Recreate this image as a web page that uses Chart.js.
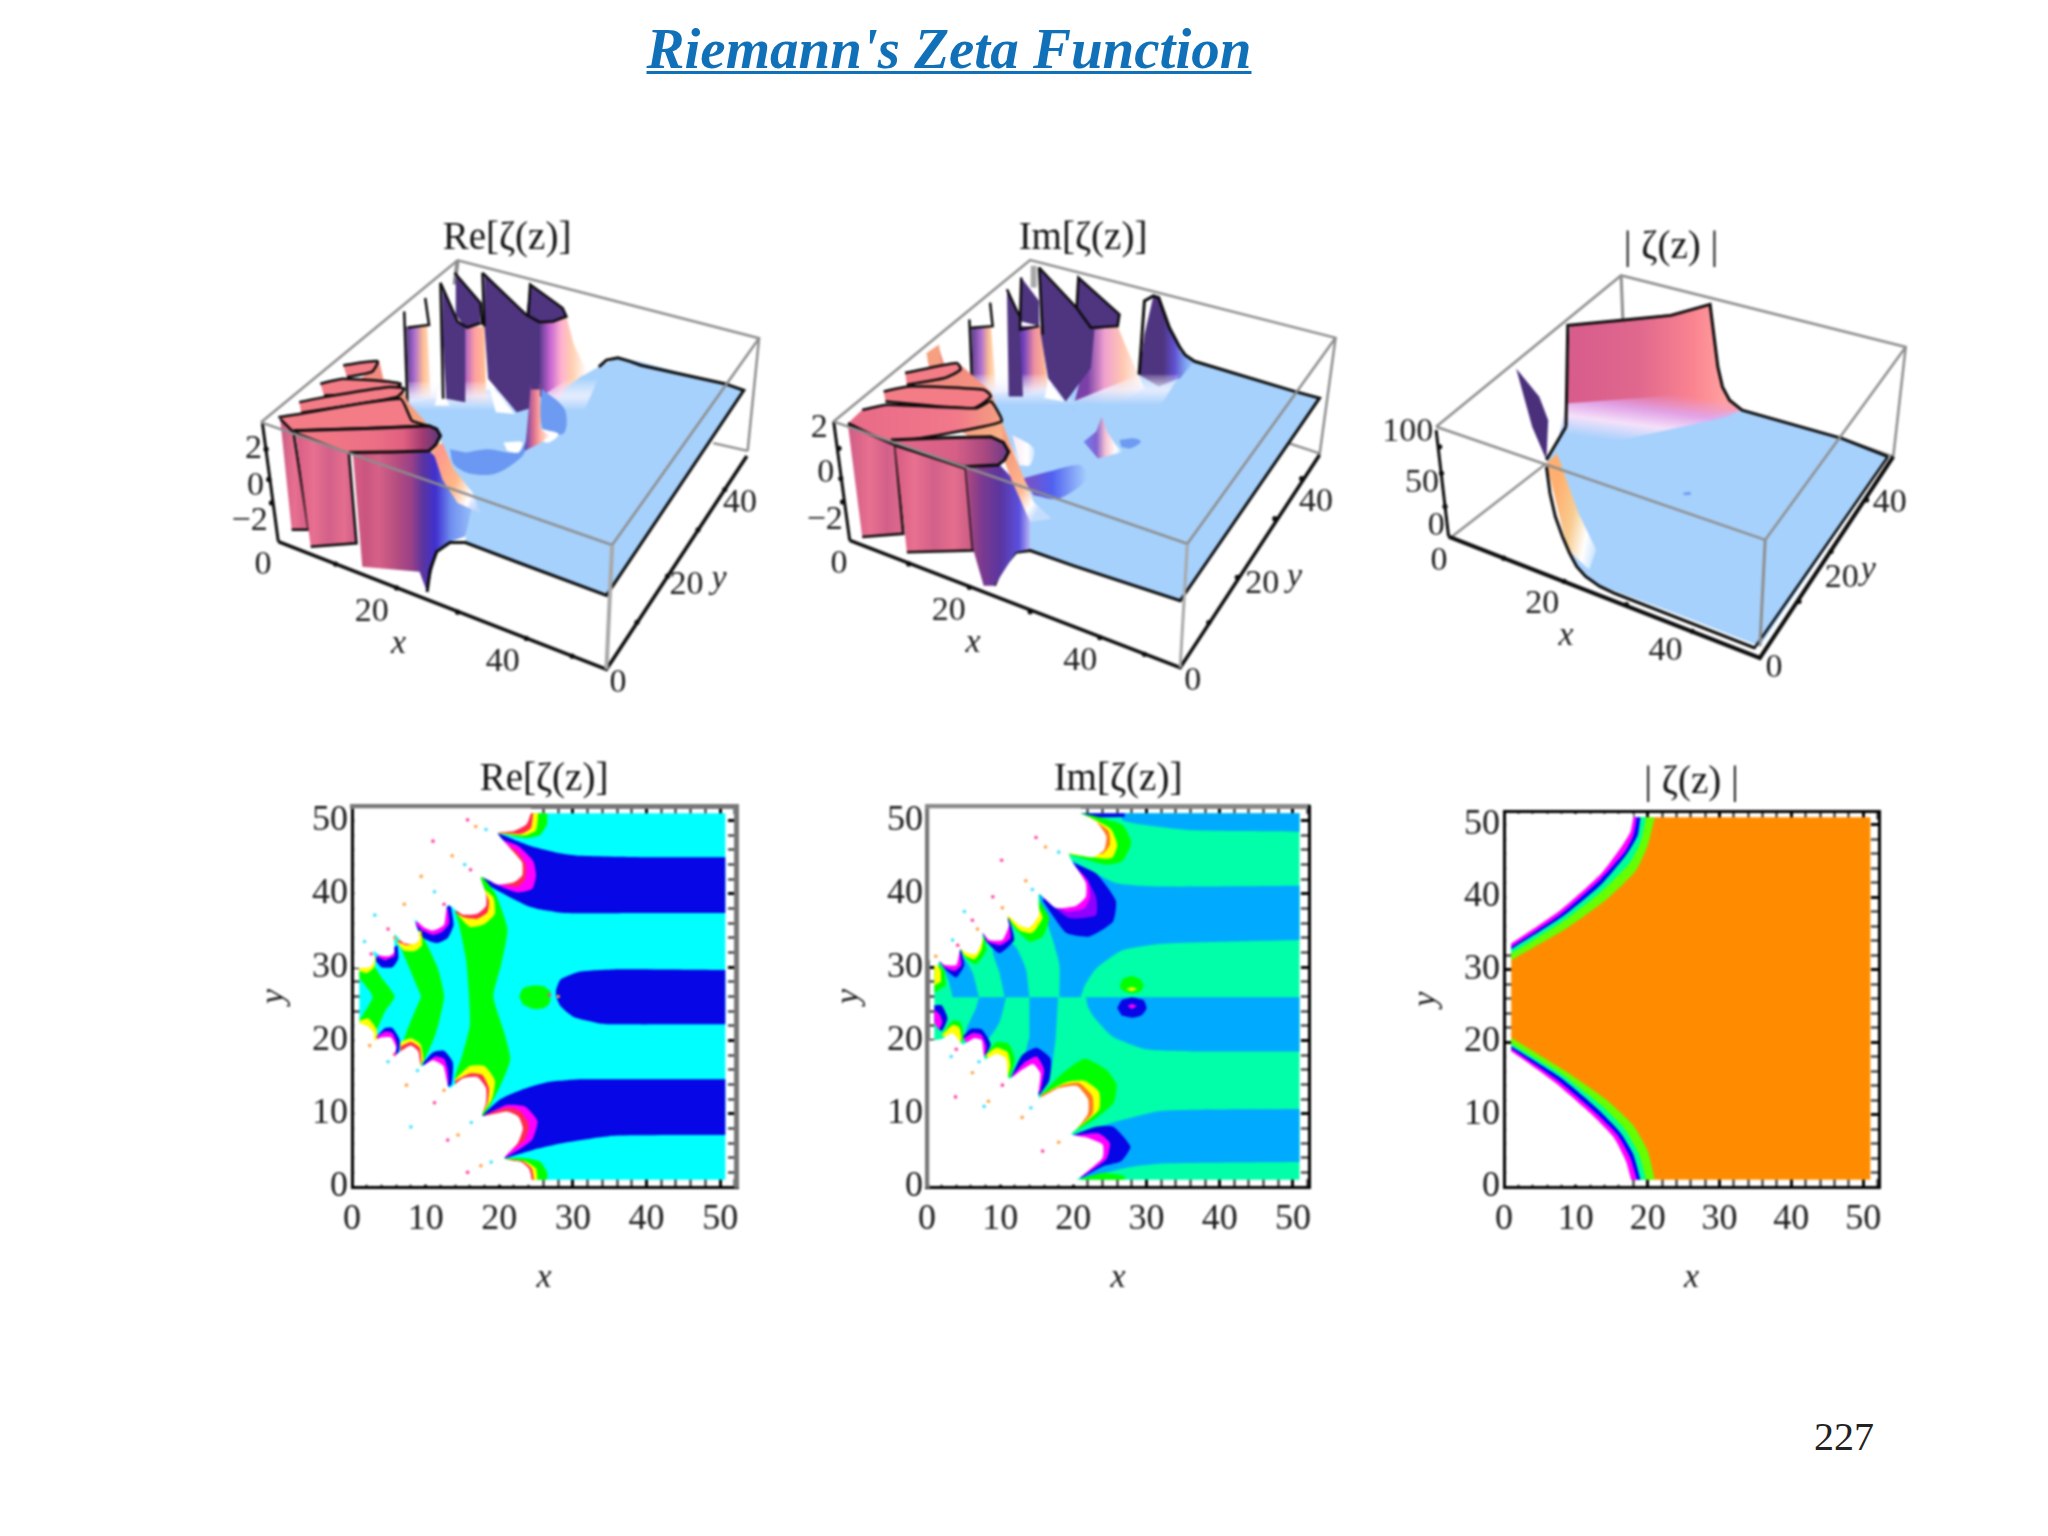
<!DOCTYPE html>
<html><head><meta charset="utf-8">
<script src="https://cdn.jsdelivr.net/npm/chart.js@4/dist/chart.umd.js"></script>
<style>
html,body{margin:0;padding:0;background:#fff;width:2048px;height:1536px;overflow:hidden}
canvas{position:absolute;filter:blur(.8px)}
#head{position:absolute;left:0;top:16px;width:1898px;text-align:center;font:italic bold 57px 'Liberation Serif';color:#1070b8;text-decoration:underline;text-decoration-thickness:3px;text-underline-offset:3px}
#page{position:absolute;left:1814px;top:1413px;font:40px 'Liberation Serif';color:#222}
</style></head><body>
<div id="head">Riemann's Zeta Function</div>
<div id="page">227</div>
<script>
const SERIF="'Liberation Serif'";
// ---- contour panels: region outlines in (x,y) data units ----
const tickValues=[0,10,20,30,40,50];
const reBase=[1,1,50.7,1,50.7,51,1,51];
const reBlueTop=[19.8,48.3,22,47.4,24.7,46.4,28,45.6,31,45.2,40,45,50.7,45,50.7,37.4,40,37.4,28.8,37.4,25.5,37.9,23.8,38.4,21,39.8,18.4,41.3,17.5,42.6];
const reBlueBot=[17.7,9.8,20.2,12,23.4,13.4,26.5,14.3,31,14.7,40,14.7,50.7,14.7,50.7,7.1,35.6,7,29.2,6.1,24.7,5.1,20.7,3.9];
const reBlueMid=[27.7,26.9,28.3,28.3,31,29.4,35.6,29.7,50.7,29.6,50.7,22.2,35,22.2,33.3,22.4,30.1,23.2,28.3,24.7,27.7,26];
const reGreenBig=[17.5,42.6,19.5,40,21.1,35.2,20.3,30.5,19.2,26,20.7,21,21.5,17.4,20,13.5,17.7,9.8,14,14.5,15,18,16,22,15.9,26,15.5,31,14.5,36,14,37.5];
const reGreenA=[6.7,32.5,9,33,9.4,34.5,11.6,30,12.5,26,11.4,21,9.4,16.5,8.8,16.5,7,19.7,9.4,26];
const reGreenB=[1,29.5,2.8,30.3,4,28.6,5.8,26,4.5,24,3,21,1.2,22.7,1,22.7,2.8,26,1,28.5];
const reBlob=[22.7,26,23.2,27.1,24.6,27.5,26,27.4,27,26.6,26.8,25,26,24.4,24.6,24.3,23.2,24.9];
const reT1g=[19.8,48.3,23.5,47.6,25.5,48,26.5,49.5,26.5,51,20,51];
const reT1y=[20,48.2,23.5,48,25,48.7,25.3,51,20,51];
const reT1r=[20,48.3,23,48.2,24.3,49,24.6,51,20,51];
const reT2m=[20,47.5,22.5,46.6,24.6,44.5,25,42.5,24.5,40.7,22.5,40.2,19,41.5];
const reT2r=[20,47.5,22.5,45.7,23.6,44,23.5,42,22.5,41,19,41.6];
const reT3y=[17.5,41,19.2,39.5,19.4,37.3,18,35.9,16,35.5,14.2,37.5,15,38];
const reT3r=[17.8,41,18.6,39,18.4,37.5,17,36.6,15.2,36.8,14,37.5];
const reT4b=[13.4,38.5,13.8,35.8,13,34,11.5,33.3,9.7,34,8.5,36];
const reT4m=[13,38,13.2,36,12.2,34.8,11,34.4,9.6,35,8.5,36];
const reT5y=[9.4,35,9.5,33,8.5,32.2,7,32.3,6,33.5];
const reT5r=[9.2,34.5,8.8,33.3,7.4,33,6,33.5];
const reT6b=[6.2,33,6.3,31.2,5.5,30,4,30,3,31.2];
const reT6m=[5.8,32.5,5.8,31.5,4.5,30.9,3.3,31.5];
const reT7y=[3.3,31.5,3,30,2,29.2,1,29.5,1,30];
const reB7y=[1,22.7,2.2,23,3.3,21.6,3.4,20,1,20];
const reB6b=[3.3,20.5,4.5,21.7,5.5,21.7,6.5,20,6.2,18,5,18];
const reB6m=[3.3,20.5,4.5,21.2,5.5,21,6.1,19.5,5.8,18,5,18];
const reB5y=[6.6,19.8,8,20.3,9.3,19.5,9.7,17.2,9,16.5,6.5,18];
const reB5r=[6.6,19.2,8,19.8,9.2,19,9.4,17,9,16.5,6.5,18];
const reB4b=[9.7,17,11,18.4,12.5,18.6,13.7,17,13.5,14,12.5,13.5,9.5,16];
const reB4m=[10,16.8,11.3,17.8,12.5,17.5,13,16,13,14,9.5,16];
const reB3y=[14,14.7,16,16.5,18,16.5,19.4,14.5,19,12,17.5,10,14,11];
const reB3r=[14,14.5,16,15.5,17.7,15.3,18.6,13.5,18.4,11.5,17.5,10,14,11];
const reB2m=[18,9.8,21,11.2,23.5,11,25.2,9,24.5,6.5,22.5,5,20.5,4,19,6];
const reB2r=[18,9.8,21,10.8,22.8,10.4,24,8.5,23.5,6.5,21.5,5,20,4.5,19,6];
const reB1g=[20.5,3.9,23,4,25.5,3.5,26.5,2,26.5,1,20,1];
const reB1y=[21,3.8,23.5,3.5,25,2.5,25.2,1,20,1];
const reB1r=[21,3.8,23.2,3.5,24.4,2.5,24.7,1,20,1];
const reWhiteTop=[0.3,51.7,24.3,51.7,24.3,51,23.7,49.5,22,48.6,19.8,48.3,21.5,46.2,23.1,44.3,23.1,42.5,22,41.6,19.8,41.3,17.5,42.3,18.2,40,18.2,38.4,17,37.3,15,37.2,13,38.5,12.5,35.8,11,35,9.7,35.5,8.5,36.5,9.2,34,8.6,33.2,7,33.3,5.8,34.5,5.7,32,5,31.5,3.8,31.6,2.9,32.2,3.1,31,2.4,30,0.3,29.9];
const reWhiteBot=[0.3,0.3,24.4,0.3,24.4,1,24.1,2.4,23,3.4,20.7,3.9,22.5,6,23.2,8,22.6,9.6,21,10.3,17.7,9.7,18.2,11.5,18.2,13.5,17,15,15,14.8,13.2,13.5,12.4,16.5,11,17.3,9.4,16.5,9,18.5,8,19.3,6.6,18.5,5.8,18,6,19,5.3,20.4,4,20.4,3,20,3,21,2,22,0.3,22.6];
const reDots=[15.7,50.1,16.8,49.2,18.2,48.8,11,47.2,13.6,45.2,15.3,44,16.1,43.3,9.4,42.4,11.2,40.3,12.5,38.6,7.1,38.6,3.1,37.1,4.9,35.2,5.8,34,1.7,33.5,2.6,31.8,2.4,19.3,4.9,17.1,5.8,18.1,7.4,13.9,8.9,15.9,11.2,11.5,12.5,13.2,8,8.2,13,6.4,14.4,7.1,16.2,8.8,15.7,2,17.5,2.9,18.9,3.4,26.8,26.2,28,26];

const imBase=[1,1,50.9,1,50.9,51,1,51];
const imBlueA=[26.5,51,50.9,51,50.9,48.5,36,48.7,29,49.5,26.7,50];
const imBlueB=[19.9,44.5,25.8,41.5,32.2,41,50.9,41.1,50.9,33.7,32.2,33.2,26.7,32.3,23.1,29.8,21.6,27.6,21,25.9,18.1,25.9,18.1,30.3,17.2,33.7,15.8,38.1,15.3,40];
const imBlueC=[10.6,25.9,9.9,29.3,9,32.3,11,33.5,12.2,32.7,13.5,29.8,14,25.9];
const imBlueD=[3.5,25.9,3,28,2.4,30,4.9,31.3,6.2,29.3,7.1,25.9];
const imBlueE=[21.7,25.9,22,24.6,22.8,23.2,25.4,20.5,29.9,18.8,36.8,18.5,50.9,18.5,50.9,25.9];
const imBlueF=[14,25.9,17.9,25.9,17.6,20.5,16.9,15.6,15.5,12.7,15,17,13.5,18,14,20.5];
const imBlueG=[7.1,25.9,10.8,25.9,9.9,22.5,8.1,20,5.3,21,6.7,24.4];
const imBlueH=[19.9,7.1,25.4,8.8,32.2,10.4,50.9,10.65,50.9,3.4,32.2,3.2,27.6,2.7,21.3,1.2];
const imSpotG=[26.3,27.5,26.8,28.4,28,28.8,29.2,28.3,29.6,27.5,29.2,26.7,28,26.4,26.8,26.7];
const imSpotB=[26,24.4,26.6,25.5,28,25.9,29.6,25.5,30,24.4,29.3,23.4,28,23.1,26.6,23.4];
const imSpotY=[27.2,27,28,27.3,28.8,27,28,26.7];
const imSpotM=[27.4,24.7,28,25,28.7,24.7,28,24.3];
const imT1=[20.5,51,27,51,27,50.5,21,50.4];
const imT2g=[19,45.5,24.5,44,26.7,44.5,27.9,47,26.7,49.4,23,50.6,21,51];
const imT2y=[19,45.5,24.5,44.8,25.4,45,26,46.7,25.1,48.9,22,50.6];
const imT2r=[19.4,45.5,24,45.5,25,46.7,24.8,48.6,22,50.6];
const imT3b=[19.4,44.5,23.1,42.8,25.8,39.1,25.4,36.2,22.2,34.2,19,34.7,15.8,39.1];
const imT3m=[19.4,44.5,21.7,42.2,23.1,39.6,23.1,37.1,19.4,36.7,15.8,39.5];
const imT3r=[19.8,44.2,22,41.8,22.3,39.6,21.5,38,19,37.6,15.8,39.5];
const imT4g=[15.3,39.1,16.7,36.7,15.8,34.2,14,33.5,11.7,35.7,10.8,37.1];
const imT4y=[15.3,38,15.8,36.7,14.4,34.7,12.7,35,10.8,37.1];
const imT5b=[11.2,36.7,11.9,33.7,9.9,31.9,8.1,33.5,7.6,34.7];
const imT5m=[11.2,36,11.4,34,10,33,8.3,33.5,7.6,34.7];
const imT6g=[7.8,34.2,8.1,32.3,6.7,30.4,5.3,31.3,4.6,32.5];
const imT6y=[7.7,34,7.4,32.3,6.5,31.1,5.2,31.6,4.6,32.5];
const imT7b=[4.6,32.5,5.1,30.3,4,28.6,2.4,29.8,1.7,30.8];
const imT7m=[4.5,32,4.7,30.3,3.8,29.5,2.4,30,1.7,30.8];
const imT8g=[1,31,2.4,29.5,2.6,27.5,1,26.5];
const imT8y=[1,31,1.9,29.5,1.9,28,1,27.5];
const imBLb=[1,24.8,2,24.8,2.8,23,2,21.3,1,22.5];
const imBLm=[1,24.2,1.7,23.6,2.1,22.5,1.6,21.5,1,22.5];
const imB1g=[2,20.7,3.5,22.7,4.6,22.5,5,20.5,4.5,19.5];
const imB1y=[2,20.7,3.5,22.1,4.4,21.8,4.7,20.5,4.5,19.5];
const imB2b=[4.9,20.5,6,21.6,7.5,21.5,8.7,19.5,8,17.9];
const imB2m=[4.9,20.2,6.2,21,7.4,20.8,8.1,19.2,7.9,17.9];
const imB3g=[8,18,9.5,19.8,11.2,19.5,12,17.5,11.3,15,10.5,15];
const imB3y=[8,18,9.5,19,11,18.4,11.4,16.5,11,15];
const imB4b=[11.5,15,13,18,15,19,16.9,17.5,16.7,14.5,15.3,12.5];
const imB4m=[11.5,15,13.3,17,15,17.8,16,16,15.5,13];
const imB5g=[15.5,12.5,18.5,15.5,21.5,17.5,24.5,16,25.9,14,25.5,11.5,23,9.3,19.5,7.2];
const imB5y=[15.5,12.5,19,14.3,21.5,14.5,23.5,13,23.5,10.5,19.5,7.2];
const imB5r=[15.5,12.5,18.5,13.9,20.8,14.2,22.6,12.4,22.6,10,19.5,7.2];
const imB6b=[19.7,7,23,8.2,25.5,8.2,27.8,5.5,26.5,3.5,24,2.8,21,1.2];
const imB6m=[19.7,7,23.5,7.3,25,6,24.5,3.8,21,1.3];
const imB7=[21,1.1,24,1.9,27,1.5,27,1,21,1];
const imWhiteTop=[0.3,51.7,21,51.7,21,51,23.1,49.9,24.5,47.9,24.2,46,22.6,45,19.4,45.5,20.1,44,21.7,41.5,21.7,39.6,20.4,38.4,17.6,38.1,15.3,40,15.3,37.1,14,35.4,12.7,35.7,11,37.1,11.2,35.7,10.3,33.7,8.5,33.7,7.6,34.7,7.6,33.7,6.7,31.8,5.3,32,4.6,32.5,4.4,31.8,4,30.3,2.4,30.3,1.7,30.8,1.4,30,0.3,31];
const imWhiteBot=[0.3,0.3,20.5,0.3,20.5,1,22,2.2,24,4,24,5.8,22,6.7,19.7,7.2,20.5,8,22,10,22,12,20.5,13.8,18,13.5,15.3,12.2,15.5,15.5,14.5,16.8,13,16,11.2,14.8,10.8,17.5,9.5,18.2,7.9,17.5,7.5,20,6.5,20.3,4.9,19.5,3.5,21,2,20.2,0.3,20];
const imDots=[14.9,47.7,16.2,46.4,18,45.7,10.2,44.6,13.5,41.8,14.4,40.6,9,39.6,10.3,38.1,5.1,37.6,6.2,36.4,6.9,35.2,3.5,33.7,4.2,33,1.2,31.5,3.3,17.8,4,18.8,6.2,15.6,7.1,17.1,3.9,12.3,8.4,11.7,7.8,11,10.3,13.9,13,9.5,14.2,10.8,15.8,4.9,18,6.1];

const absBase=[1,1,51,1,51,51,1,51];
const absTopG=[1,51,21,51,20,47.1,18.4,43.7,14.3,39.7,8.7,35.7,1,31.3];
const absTopT=[1,51,19.8,51,19,47.6,17.5,44.7,13.5,40.7,8,36.5,1,32.2];
const absTopB=[1,51,19,51,18.6,48.5,17,45.8,13.5,41.7,8,37.2,1,32.8];
const absTopM=[1,51,18.5,51,18,48.5,16.8,46.2,13.5,42.5,8,37.7,1,33.1];
const absTopW=[0.3,51.5,18,51.5,18,51,17.6,49,16.4,47,13.5,43.2,8,38.3,1,33.6,0.3,33.6];
const absBotG=[1,1,21,1,20,5,18,8.5,14.3,12,8.7,15.9,1,20.6];
const absBotT=[1,1,19.8,1,18.8,4.5,16.8,8,13.5,11.3,8,15.6,1,19.8];
const absBotB=[1,1,19,1,18,4.5,16.2,7.5,13,10.8,8,15,1,19.4];
const absBotM=[1,1,18.5,1,17.6,4,15.8,7.2,12.5,10.5,7.5,14.7,1,19.1];
const absBotW=[0.3,0.3,17.7,0.3,17.7,1,17,3.5,15.3,6.8,12,10.2,7,14.5,1,18.7,0.3,18.7];

// ---- surface panels: outlines on the projected view plane ----
const reBoxBack=[105,660,620,178,1410,410,1380,745];
const reBoxBack2=[1290,722,1380,745];
const reBoxBack3=[620,178,612,250];
const reBoxFront=[105,660,1025,1025,1410,410];
const reBoxNear=[1025,1025,1010,1395];
const reAxisZ=[150,1015,108,660];
const reAxisBase=[150,1015,1010,1395,1378,760];
const reAxisTicks=[300,1082,460,1153,620,1225,800,1303,920,1356,1090,1255,1170,1118,1250,980,1320,860,125,830,132,900,118,740];
const reSheet=[1010,1175,1370,565,1100,480,1040,468,990,495,950,520,490,600,490,650,570,700,610,800,650,900,640,1015,780,1075];
const reSheetEdge=[540,1165,548,1100,565,1045,600,1018,640,1018,780,1078,1010,1175,1370,565,1320,545,1100,490,1070,478,1040,468,1010,475,990,495];
const rePillarE=[835,360,905,345,925,430,960,510,900,560,860,660,800,600];
const rePillarD=[690,215,800,340,810,250,895,320,905,345,870,360,835,365,835,610,775,630,700,530,690,370];
const rePillarDEdge=[685,215,800,340,835,362,870,360,905,345,895,320,810,250,805,340];
const rePillarDEdge2=[685,215,690,375];
const rePillarC=[640,375,690,375,695,600,620,600];
const reWedgeC=[580,250,620,360,640,378,640,600,590,590,580,400];
const reWedgeC2=[615,215,680,305,680,365,640,378,615,340];
const reWedgeEdge=[575,245,620,360,645,378,680,365];
const reWedgeEdge2=[612,215,680,305,685,370];
const reWedgeEdge3=[575,245,582,590];
const rePillarB=[485,375,540,372,550,590,490,590];
const rePillarBEdge=[480,330,488,600];
const rePillarBEdge2=[535,290,545,370,490,378];
const reNotchA=[570,560,600,610,560,610];
const reNotchB=[700,540,770,635,720,630];
const reFade=[490,540,700,540,830,590,950,500,1000,500,950,630,490,640];
const reHalo=[840,560,900,620,900,690,850,695,835,640];
const reDip=[600,740,610,785,650,812,720,812,790,760,800,720,770,750,700,740,640,750];
const reSpot=[740,720,790,720,780,750,750,745];
const reSpike=[812,545,835,545,838,680,860,700,840,720,795,745,800,700];
const reSpikeTop=[812,540,835,540,835,562,812,562];
const reWhiteSpot=[840,680,885,695,860,720,835,715];
const reBack=[415,480,425,530,470,545,490,600,560,690,600,790,560,760,300,600];
const reTierA=[320,490,410,478,395,510,330,525];
const reTierB=[260,545,320,530,470,545,430,575,270,580];
const reTierC=[205,600,270,585,440,555,480,560,460,585,210,632];
const reTierD=[150,645,205,635,470,590,500,655,540,670,190,685];
const reWall1=[155,650,190,690,230,980,185,980];
const reWall2=[195,690,335,750,355,1020,235,1030];
const reWall3=[345,750,545,745,560,760,600,820,640,870,660,900,640,1000,600,1015,565,1040,540,1165,520,1105,370,1090];
const reTube=[190,685,400,678,545,670,565,680,575,700,562,728,545,745,450,748,335,750];
const reWallFade=[555,745,580,720,610,800,660,870,680,930,620,900,580,830];
const reLabelText=['2','0','−2','0','20','40','0','20','40'];
const reLabelX=[85,90,75,110,395,738,1040,1220,1360];
const reLabelY=[740,850,955,1085,1225,1375,1435,1145,900];
const reAxisNameX=[465,1320];
const reAxisNameY=[1305,1125];

const imBoxBack=[90,660,640,178,1495,410,1450,760];
const imBoxBack2=[1365,725,1450,755];
const imBoxBack3=[650,195,650,260];
const imBoxFront=[90,660,1080,1025,1495,410];
const imBoxNear=[1080,1025,1060,1395];
const imAxisZ=[135,1015,90,660];
const imAxisBase=[135,1015,1060,1395,1450,760];
const imAxisTicks=[300,1085,470,1155,640,1228,835,1305,960,1355,1140,1260,1220,1125,1325,950,1400,830,110,830,115,900,105,740];
const imSheet=[1060,1195,1450,590,1100,480,940,510,530,580,545,640,600,760,630,880,640,1045,760,1090];
const imSheetEdge=[540,1150,560,1100,600,1050,640,1045,760,1090,1060,1195,1450,590,1380,570,1100,480,1075,462,1060,440,1030,380,1000,290,985,285,960,300,945,520];
const imSpikeF=[985,285,1000,290,1030,380,1060,450,1100,480,1060,530,1000,555,945,520,960,400];
const imPillarPink=[815,385,885,375,910,440,960,560,900,600,760,620];
const imPillarD=[665,200,770,320,775,230,890,340,885,375,820,385,810,500,740,600,690,530,670,400];
const imPillarEdge=[665,200,770,320,810,380,885,375,890,340,775,230,770,320];
const imPillarEdge2=[665,200,675,400];
const imWedge=[615,230,610,360,665,375,665,300];
const imWedgeEdge=[575,265,612,350,612,385,665,375];
const imWedgeEdge2=[615,230,612,350];
const imPillarC=[580,375,670,375,690,560,590,585];
const imPillarDk=[575,265,612,360,612,385,620,585,580,585];
const imPillarB=[475,380,530,375,545,570,480,570];
const imPillarBEdge=[470,355,478,570];
const imPillarBEdge2=[528,305,535,375,475,380];
const imNotch=[690,540,735,600,680,590];
const imFade=[480,520,690,520,760,600,945,520,1060,520,1000,620,530,620];
const imMini=[840,645,855,690,880,730,900,750,830,770,790,720,825,690];
const imMiniSpot=[890,715,930,710,950,720,920,740,895,735];
const imDip=[620,830,690,810,780,790,800,830,720,890,650,880];
const imPale=[590,700,650,740,640,790,610,790];
const imBack=[385,440,400,490,445,490,530,570,560,660,600,770,560,760,300,600];
const imTier0=[350,455,385,430,390,490,355,490];
const imTier1=[290,515,435,485,445,505,400,530,295,550];
const imTier2=[230,570,300,555,510,565,530,585,480,620,235,600];
const imTier3=[170,625,240,610,490,620,530,600,560,660,250,720,130,665];
const imWall1=[130,670,262,730,285,995,170,1005];
const imWall2=[262,730,460,800,480,1045,295,1050];
const imWall3=[460,800,555,790,600,840,640,900,640,1040,600,1050,540,1150,510,1150,480,1040];
const imTube=[250,715,400,708,530,705,565,722,580,750,568,775,550,790,455,795,262,730];
const imWallFade=[560,660,600,770,650,900,700,950,640,960,590,840,565,770];
const imLabelText=['2','0','−2','0','20','40','0','20','40'];
const imLabelX=[50,68,65,105,412,780,1095,1290,1440];
const imLabelY=[680,815,955,1085,1225,1375,1435,1145,900];
const imAxisNameX=[480,1320];
const imAxisNameY=[1380,1125];

const abBoxBack=[180,680,700,225,1500,440,1465,770];
const abBoxBack2=[1320,715,1465,770];
const abBoxBack3=[700,225,705,360];
const abBoxBack4=[225,1010,490,790];
const abBoxFront=[180,680,1105,1020,1500,440];
const abBoxNear=[1105,1020,1090,1340];
const abAxisZ=[215,1010,180,690];
const abAxisBase=[215,1010,1090,1375,1465,770];
const abAxisBase2=[680,1180,1075,1345,1450,770];
const abAxisTicks=[370,1075,540,1145,715,1215,900,1295,1200,1205,1290,1055,1390,900,195,820,205,920,190,740];
const abSheet=[1090,1340,1450,770,1320,720,1050,630,1000,640,520,735,490,790,560,1080,620,1150,850,1240];
const abWall=[555,375,700,360,840,340,950,310,965,440,972,500,985,560,1005,600,1040,630,1000,640,700,700,550,700,545,670];
const abWallFade=[545,610,800,590,985,560,1005,600,1040,630,1000,650,700,720,520,735];
const abWallEdge=[545,680,550,375,700,360,840,345,950,312,965,440,972,500,985,560,1005,600,1040,630,1320,715,1450,770];
const abLeaf=[405,505,470,590,495,660,490,780,450,680];
const abLink=[490,780,545,680];
const abPatch=[490,790,520,760,580,940,630,1050,610,1110,550,1050];
const abEdge=[490,800,500,880,515,950,535,1010,555,1060,575,1100,600,1130,640,1160,680,1180,1075,1345];
const abSpot=[875,878,895,875,895,885,875,885];
const abLabelText=['100','50','0','0','20','40','0','20','40'];
const abLabelX=[100,140,180,188,478,825,1130,1320,1455];
const abLabelY=[695,850,980,1085,1212,1355,1405,1135,910];
const abAxisNameX=[545,1310];
const abAxisNameY=[1395,1110];

// ---- styles ----
const grey='#8d8d8d',ink='#0a0a0a';
const rainbow=['#ff40a0','#40a0ff','#ffa040','#a040ff','#40e0ff','#ff6060'];
const C={cyan:'#00ffff',blue:'#0606e6',green:'#00ff00',yellow:'#ffff00',red:'#ff2a50',mag:'#ff00ff',white:'#ffffff',orange:'#ff8800',
 spring:'#00ffa8',sky:'#00aaff',lime:'#66ff00',teal:'#00ff99',ora2:'#ff8c00',pure:'#0000ff',violet:'#9000ff',dark:'#4f3480',sheet:'#a6d1fc',
 salmon:'#f37c86',pink:'#e06c8c',halo:'#6d9bf2',dip:'#6a98f2'};
const H=(x0,x1,s)=>({a:[x0,300],b:[x1,300],s});
const G={
 pillarE:H(835,960,[[0,'#5a3b8c'],[.2,'#c060d0'],[.45,'#ffb0d0'],[.68,'#ffd0b0'],[1,'#ffffff']]),
 pillarC:H(620,695,[[0,'#7a3aa0'],[.35,'#c070c0'],[.6,'#ffa0a0'],[1,'#ffc090']]),
 pillarB:H(485,550,[[0,'#5a3b8c'],[.35,'#b070d0'],[.7,'#ffc090'],[1,'#ffe0d0']]),
 fadeRe:{a:[700,530],b:[700,625],s:[[0,'rgba(255,255,255,0)'],[.55,'rgba(240,240,255,.85)'],[1,'#a6d1fc']]},
 fadeIm:{a:[700,510],b:[700,610],s:[[0,'rgba(255,255,255,0)'],[.55,'rgba(240,240,255,.85)'],[1,'#a6d1fc']]},
 spike:H(795,865,[[0,'#5040b0'],[.35,'#e07090'],[.6,'#ffb0a0'],[1,'#ffffff']]),
 back:{a:[400,560],b:[620,760],s:[[0,'#f38a80'],[.6,'#f8a880'],[1,'#ffc8a0']]},
 wall3:H(345,680,[[0,'#d85c84'],[.1,'#c9567f'],[.2,'#d66088'],[.33,'#b85080'],[.46,'#9a4088'],[.55,'#5a35a0'],[.65,'#4030d0'],[.77,'#7090f0'],[1,'#a6d1fc']]),
 wall2:H(195,355,[[0,'#d85c84'],[.3,'#e87090'],[.55,'#d2608a'],[.8,'#e56e8e'],[1,'#cc5a86']]),
 wall1:H(155,230,[[0,'#c85a84'],[.5,'#e87090'],[1,'#d05c86']]),
 tube:H(190,575,[[0,'#f47b85'],[.55,'#ec6f85'],[.75,'#e05f80'],[.88,'#a03a70'],[1,'#5a3880']]),
 wallFade:{a:[560,800],b:[690,860],s:[[0,'#ff9a8a'],[.45,'#ffb888'],[.8,'#ffffff'],[1,'rgba(240,225,250,.3)']]},
 imF:H(945,1105,[[0,'#4f3480'],[.42,'#4f3480'],[.62,'#6050d0'],[.82,'#80a8f4'],[1,'#a6d1fc']]),
 imPink:H(800,960,[[0,'#7a40a8'],[.3,'#f0a0d0'],[.62,'#ffc8b0'],[1,'#ffffff']]),
 imC:H(595,690,[[0,'#4f3480'],[.28,'#7040c0'],[.6,'#f090a0'],[1,'#ffc090']]),
 imB:H(475,545,[[0,'#5a3b8c'],[.4,'#b070d0'],[.72,'#ffc090'],[1,'#ffe8d8']]),
 imMini:H(790,900,[[0,'#7080f0'],[.32,'#8060d0'],[.55,'#f5c0d0'],[.82,'#ffffff'],[1,'#a6d1fc']]),
 imDip:H(620,800,[[0,'#8050c0'],[.45,'#5060f0'],[1,'#a6d1fc']]),
 imPale:H(590,660,[[0,'#f8e8f4'],[.6,'#ffffff'],[1,'#b8d8fc']]),
 imW3:H(460,690,[[0,'#b04a80'],[.2,'#7a3a90'],[.42,'#5a35a0'],[.65,'#5a50e0'],[.8,'#c8c8f8'],[1,'#a6d1fc']]),
 imW2:H(262,480,[[0,'#d85c84'],[.25,'#e87090'],[.5,'#d2608a'],[.75,'#e56e8e'],[1,'#c85a84']]),
 imW1:H(130,285,[[0,'#d05c86'],[.4,'#e87090'],[.7,'#d2608a'],[1,'#de6a8c']]),
 imTube:H(250,580,[[0,'#e5688a'],[.55,'#d65f86'],[.8,'#a84880'],[1,'#6a3a88']]),
 imTop:H(130,560,[[0,'#e86a88'],[.7,'#f2788a'],[1,'#f5a080']]),
 imWF:{a:[570,800],b:[690,880],s:[[0,'#f8a080'],[.5,'#ffb890'],[.82,'#ffffff'],[1,'rgba(240,240,255,.4)']]},
 abWall:H(555,990,[[0,'#d85c8c'],[.45,'#e0688e'],[.8,'#fa8490'],[1,'#ffa0a0']]),
 abFade:{a:[760,570],b:[740,730],s:[[0,'rgba(230,160,230,0)'],[.35,'rgba(225,165,235,.95)'],[.65,'rgba(245,225,250,1)'],[1,'#a6d1fc']]},
 abPatch:{a:[505,950],b:[665,985],s:[[0,'#ffb070'],[.35,'#f8cc90'],[.65,'#ffffff'],[1,'#a6d1fc']]}
};
const L=(pts,fill,stroke,w,t)=>({pts,fill,stroke,w,t});
const TITLE_SIZE=39,TITLE_H=TITLE_SIZE*1.2;

function grad(c,g){const x=c.scales.x,y=c.scales.y;
 if(!x||!y)return '#a6d1fc';
 const ax=x.getPixelForValue(g.a[0]),ay=y.getPixelForValue(g.a[1]),bx=x.getPixelForValue(g.b[0]),by=y.getPixelForValue(g.b[1]);
 if(![ax,ay,bx,by].every(Number.isFinite))return '#a6d1fc';
 const lg=c.ctx.createLinearGradient(ax,ay,bx,by);g.s.forEach(s=>lg.addColorStop(s[0],s[1]));return lg;}
const toXY=f=>{const o=[];for(let i=0;i<f.length;i+=2)o.push({x:f[i],y:f[i+1]});return o;};
// field-border and seam vertices stay sharp when a contour outline is smoothed
const sharp=p=>p.x>=50.5||p.y>=50.4||p.y<=1.3||p.y===25.9;
function toDS(l,tension,contourMode){
 let pts=toXY(l.pts);const t=l.t!==undefined?l.t:(tension||0);
 if(contourMode&&t>0){const o=[];pts.forEach(p=>{o.push(p);if(sharp(p))o.push({x:p.x,y:p.y});});pts=o;}
 const d={data:pts,showLine:true,pointRadius:0,clip:false,tension:t,spanGaps:true,xAxisID:'x',yAxisID:'y'};
 if(l.fill){d.fill='shape';d.backgroundColor=(typeof l.fill==='string')?l.fill:(ctx=>grad(ctx.chart,l.fill));}else{d.fill=false;}
 d.borderColor=l.stroke||'rgba(0,0,0,0)';d.borderWidth=l.stroke?l.w:0;return d;}
function dotsDS(f,colors,r){return {data:toXY(f),showLine:false,fill:false,pointRadius:r,pointStyle:'circle',pointBorderWidth:0,pointBackgroundColor:colors,clip:false,xAxisID:'x',yAxisID:'y'};}
function mk(left,top,w,h){const c=document.createElement('canvas');c.width=w;c.height=h;c.style.left=left+'px';c.style.top=top+'px';c.style.width=w+'px';c.style.height=h+'px';document.body.appendChild(c);return c;}
const titleOpt=(text,bottom)=>({display:true,text,color:'#111',font:{family:SERIF,size:TITLE_SIZE,weight:'normal',lineHeight:1.2},padding:{top:0,bottom}});

function surface(cfg){
 const top=Math.round(cfg.titleCy-TITLE_H/2),bodyTop=top+TITLE_H,w=cfg.halfW*2,left=Math.round(cfg.titleCx-cfg.halfW),h=720-top;
 const cv=mk(left,top,w,h);
 const datasets=cfg.layers.slice().reverse().map(l=>toDS(l,0));
 datasets.unshift(dotsDS(cfg.ticks,ink,2.6));
 const labels={id:'viewLabels',afterDraw(c){const g=c.ctx,x=c.scales.x,y=c.scales.y;g.save();g.fillStyle='#1c1c1c';g.textAlign='center';g.textBaseline='middle';
  g.font="34px "+SERIF;cfg.text.forEach((t,i)=>g.fillText(t,x.getPixelForValue(cfg.tx[i]),y.getPixelForValue(cfg.ty[i])));
  g.font="italic 34px "+SERIF;g.fillText('x',x.getPixelForValue(cfg.nameX[0]),y.getPixelForValue(cfg.nameX[1]));g.fillText('y',x.getPixelForValue(cfg.nameY[0]),y.getPixelForValue(cfg.nameY[1]));g.restore();}};
 const ch=new Chart(cv,{type:'scatter',data:{datasets},plugins:[labels],options:{responsive:false,animation:false,events:[],
  layout:{padding:0},
  plugins:{legend:{display:false},tooltip:{enabled:false},title:titleOpt(cfg.title,0)},
  scales:{x:{type:'linear',display:false,min:(left-cfg.ox)*cfg.kx,max:(left-cfg.ox+w)*cfg.kx},
          y:{type:'linear',display:false,reverse:true,min:(bodyTop-200)*cfg.ky,max:(720-200)*cfg.ky}}}});
 ch.update();
}
function contour(cfg){
 const m=98,ax=111,top=Math.round(cfg.titleCy-TITLE_H/2),pw=cfg.R-cfg.L,w=Math.round(pw+2*m),h=Math.round(cfg.B-top+ax);
 const cv=mk(Math.round(cfg.L-m),top,w,h);
 const datasets=cfg.layers.slice().reverse().map(l=>toDS(l,l.pts.length>8?0.18:0,true));
 if(cfg.dots)datasets.unshift(dotsDS(cfg.dots,cfg.dots.map((_,i)=>rainbow[i%rainbow.length]).filter((_,i)=>i%2==0),1.8));
 const fixW=s=>{s.width=m;s.paddingTop=s.paddingBottom=0;};
 const fixH=s=>{s.height=ax;s.paddingLeft=s.paddingRight=0;};
 const zeroH=s=>{s.height=0;s.paddingLeft=s.paddingRight=0;};
 const tickGrid=(len)=>({drawOnChartArea:false,drawTicks:true,tickLength:len,
   tickColor:c=>(c.tick&&c.tick.value%10===0)?'#000':'#333',tickWidth:c=>(c.tick&&c.tick.value%10===0)?3:2.2});
 const lab=v=>tickValues.includes(v)?String(v):'';
 const ticksShownX={color:'#1c1c1c',font:{family:SERIF,size:36},stepSize:2,autoSkip:false,includeBounds:false,maxRotation:0,minRotation:0,padding:19,callback:lab};
 const ticksShownY={color:'#1c1c1c',font:{family:SERIF,size:36},stepSize:2,autoSkip:false,includeBounds:false,maxRotation:0,minRotation:0,padding:12,callback:lab};
 const ticksHidden={display:false,stepSize:2,autoSkip:false,includeBounds:false};
 const name=(t)=>({display:true,text:t,color:'#1c1c1c',font:{family:SERIF,size:34,style:'italic'},padding:{top:0,bottom:0}});
 const ch=new Chart(cv,{type:'scatter',data:{datasets},options:{responsive:false,animation:false,events:[],
  layout:{padding:0},
  plugins:{legend:{display:false},tooltip:{enabled:false},title:titleOpt(cfg.title,cfg.T-top-TITLE_H)},
  scales:{
   x:{type:'linear',position:'bottom',min:0,max:cfg.xMax,afterFit:fixH,grid:tickGrid(-8),border:{display:true,color:cfg.edge[0],width:cfg.edgeW[0]},ticks:ticksShownX,title:name('x')},
   y:{type:'linear',position:'left',min:0,max:cfg.yMax,afterFit:fixW,grid:tickGrid(-8),border:{display:true,color:cfg.edge[1],width:cfg.edgeW[1]},ticks:ticksShownY,title:name('y')},
   x2:{type:'linear',position:'top',min:0,max:cfg.xMax,afterFit:zeroH,grid:tickGrid(-8),border:{display:true,color:cfg.edge[2],width:cfg.edgeW[2]},ticks:ticksHidden},
   y2:{type:'linear',position:'right',min:0,max:cfg.yMax,afterFit:fixW,grid:tickGrid(-8),border:{display:true,color:cfg.edge[3],width:cfg.edgeW[3]},ticks:ticksHidden}
  }}});
 ch.update();
}

surface({title:'Re[ζ(z)]',titleCx:507,titleCy:238,halfW:285,ox:217,kx:2.584,ky:2.95,ticks:reAxisTicks,text:reLabelText,tx:reLabelX,ty:reLabelY,nameX:reAxisNameX,nameY:reAxisNameY,layers:[
 L(reBoxBack,null,grey,2.5),L(reBoxBack2,null,grey,2.5),L(reBoxBack3,null,grey,4),
 L(reSheet,C.sheet),
 L(rePillarE,G.pillarE),L(rePillarC,G.pillarC),L(rePillarB,G.pillarB),L(reFade,G.fadeRe),
 L(rePillarD,C.dark),L(reWedgeC,C.dark),L(reWedgeC2,C.dark),
 L(reNotchA,C.white),L(reNotchB,C.white),
 L(rePillarDEdge,null,ink,2.5),L(rePillarDEdge2,null,ink,2.5),L(reWedgeEdge,null,ink,2.5),L(reWedgeEdge2,null,ink,2.5),L(reWedgeEdge3,null,ink,2.5),L(rePillarBEdge,null,ink,2.5),L(rePillarBEdge2,null,ink,2.5),
 L(reHalo,C.halo,null,0,.3),L(reDip,C.dip,null,0,.3),L(reSpot,C.white,null,0,.3),L(reWhiteSpot,C.white,null,0,.3),L(reSpike,G.spike),L(reSpikeTop,C.dark),
 L(reBack,G.back),L(reTierA,C.salmon,ink,2.5,.2),L(reTierB,C.salmon,ink,2.5,.2),L(reTierC,C.salmon,ink,2.5,.2),L(reTierD,C.salmon,ink,2.5,.15),
 L(reWall1,G.wall1,ink,2.5),L(reWall2,G.wall2,ink,2.5),L(reWall3,G.wall3),L(reWallFade,G.wallFade),L(reTube,G.tube,ink,3),
 L(reSheetEdge,null,ink,3),
 L(reAxisZ,null,ink,3),L(reAxisBase,null,ink,3.5),
 L(reBoxFront,null,grey,2.5),L(reBoxNear,null,'#a8a8a8',4)]});

surface({title:'Im[ζ(z)]',titleCx:1082.5,titleCy:238,halfW:285,ox:797.5,kx:2.76,ky:2.96,ticks:imAxisTicks,text:imLabelText,tx:imLabelX,ty:imLabelY,nameX:imAxisNameX,nameY:imAxisNameY,layers:[
 L(imBoxBack,null,grey,2.5),L(imBoxBack2,null,grey,2.5),L(imBoxBack3,null,'#a8a8a8',6),
 L(imSheet,C.sheet),L(imSpikeF,G.imF),
 L(imPillarPink,G.imPink),L(imPillarC,G.imC),L(imPillarB,G.imB),L(imFade,G.fadeIm),
 L(imPillarD,C.dark),L(imWedge,C.dark),L(imPillarDk,C.dark),
 L(imNotch,C.white),
 L(imSheetEdge,null,ink,3),L(imPillarEdge,null,ink,2.5),L(imPillarEdge2,null,ink,2.5),L(imWedgeEdge,null,ink,2.5),L(imWedgeEdge2,null,ink,2.5),L(imPillarBEdge,null,ink,2.5),L(imPillarBEdge2,null,ink,2.5),
 L(imDip,G.imDip,null,0,.3),L(imPale,G.imPale,null,0,.3),L(imMini,G.imMini),L(imMiniSpot,C.halo,null,0,.3),
 L(imBack,G.back),L(imTier0,'#f5a080'),L(imTier1,C.salmon,ink,2.5,.2),L(imTier2,C.salmon,ink,2.5,.2),L(imTier3,G.imTop,ink,2.5,.15),
 L(imWall1,G.imW1,ink,2.5),L(imWall2,G.imW2,ink,2.5),L(imWall3,G.imW3),L(imWallFade,G.imWF),L(imTube,G.imTube,ink,3),
 L(imAxisZ,null,ink,3),L(imAxisBase,null,ink,3.5),
 L(imBoxFront,null,grey,2.5),L(imBoxNear,null,'#a8a8a8',3)]});

surface({title:'| ζ(z) |',titleCx:1671,titleCy:247,halfW:296,ox:1368,kx:2.773,ky:2.98,ticks:abAxisTicks,text:abLabelText,tx:abLabelX,ty:abLabelY,nameX:abAxisNameX,nameY:abAxisNameY,layers:[
 L(abBoxBack,null,grey,2.5),L(abBoxBack2,null,grey,2.5),L(abBoxBack3,null,grey,3),L(abBoxBack4,null,grey,2.5),
 L(abSheet,C.sheet),L(abWall,G.abWall),L(abWallFade,G.abFade),
 L(abLeaf,'#4a2f7a'),L(abPatch,G.abPatch),L(abSpot,C.halo),
 L(abWallEdge,null,ink,3),L(abLink,null,ink,3),L(abEdge,null,ink,3),
 L(abAxisZ,null,ink,3),L(abAxisBase,null,ink,4),L(abAxisBase2,null,ink,2.5),
 L(abBoxFront,null,grey,2.5),L(abBoxNear,null,grey,3)]});

contour({title:'Re[ζ(z)]',titleCy:779.5,L:352,R:735.5,T:806,B:1187,xMax:52.15,yMax:52,dots:reDots,edge:['#000','#000','#777','#777'],edgeW:[3,3,5,5],layers:[
 L(reBase,C.cyan),L(reBlueTop,C.blue),L(reBlueBot,C.blue),L(reBlueMid,C.blue),L(reGreenBig,C.green),L(reGreenA,C.green),L(reGreenB,C.green),L(reBlob,C.green),
 L(reT1g,C.green),L(reT1y,C.yellow),L(reT1r,C.red),L(reT2m,C.mag),L(reT2r,C.red),L(reT3y,C.yellow),L(reT3r,C.red),L(reT4b,C.blue),L(reT4m,C.mag),L(reT5y,C.yellow),L(reT5r,C.red),L(reT6b,C.blue),L(reT6m,C.mag),L(reT7y,C.yellow),
 L(reB7y,C.yellow),L(reB6b,C.blue),L(reB6m,C.mag),L(reB5y,C.yellow),L(reB5r,C.red),L(reB4b,C.blue),L(reB4m,C.mag),L(reB3y,C.yellow),L(reB3r,C.red),L(reB2m,C.mag),L(reB2r,C.red),L(reB1g,C.green),L(reB1y,C.yellow),L(reB1r,C.red),
 L(reWhiteTop,C.white),L(reWhiteBot,C.white)]});

contour({title:'Im[ζ(z)]',titleCy:779.5,L:927,R:1309,T:806,B:1187,xMax:52.2,yMax:52,dots:imDots,edge:['#000','#777','#888','#000'],edgeW:[3,5,5,3],layers:[
 L(imBase,C.spring),L(imBlueA,C.sky),L(imBlueB,C.sky),L(imBlueC,C.sky),L(imBlueD,C.sky),L(imBlueE,C.sky),L(imBlueF,C.sky),L(imBlueG,C.sky),L(imBlueH,C.sky),
 L(imSpotG,C.green),L(imSpotY,C.yellow),L(imSpotB,C.blue),L(imSpotM,C.mag),
 L(imT1,C.blue),L(imT2g,C.green),L(imT2y,C.yellow),L(imT2r,'#ff7a20'),L(imT3b,C.blue),L(imT3m,C.violet),L(imT3r,C.mag),L(imT4g,C.green),L(imT4y,C.yellow),L(imT5b,C.blue),L(imT5m,C.mag),L(imT6g,C.green),L(imT6y,C.yellow),L(imT7b,C.blue),L(imT7m,C.mag),L(imT8g,C.green),L(imT8y,C.yellow),
 L(imBLb,C.blue),L(imBLm,C.mag),L(imB1g,C.green),L(imB1y,C.yellow),L(imB2b,C.blue),L(imB2m,C.mag),L(imB3g,C.green),L(imB3y,C.yellow),L(imB4b,C.blue),L(imB4m,C.mag),L(imB5g,C.green),L(imB5y,C.yellow),L(imB5r,'#ff7a20'),L(imB6b,C.blue),L(imB6m,C.mag),L(imB7,C.green),
 L(imWhiteTop,C.white),L(imWhiteBot,C.white)]});

contour({title:'| ζ(z) |',titleCy:782,L:1504,R:1879,T:811.5,B:1187,xMax:52.2,yMax:51.8,edge:['#000','#000','#000','#000'],edgeW:[3,3,3,3],layers:[
 L(absBase,C.ora2),L(absTopG,C.lime),L(absTopT,C.teal),L(absTopB,C.pure),L(absTopM,C.mag),L(absTopW,C.white),
 L(absBotG,C.lime),L(absBotT,C.teal),L(absBotB,C.pure),L(absBotM,C.mag),L(absBotW,C.white)]});
</script>
</body></html>
